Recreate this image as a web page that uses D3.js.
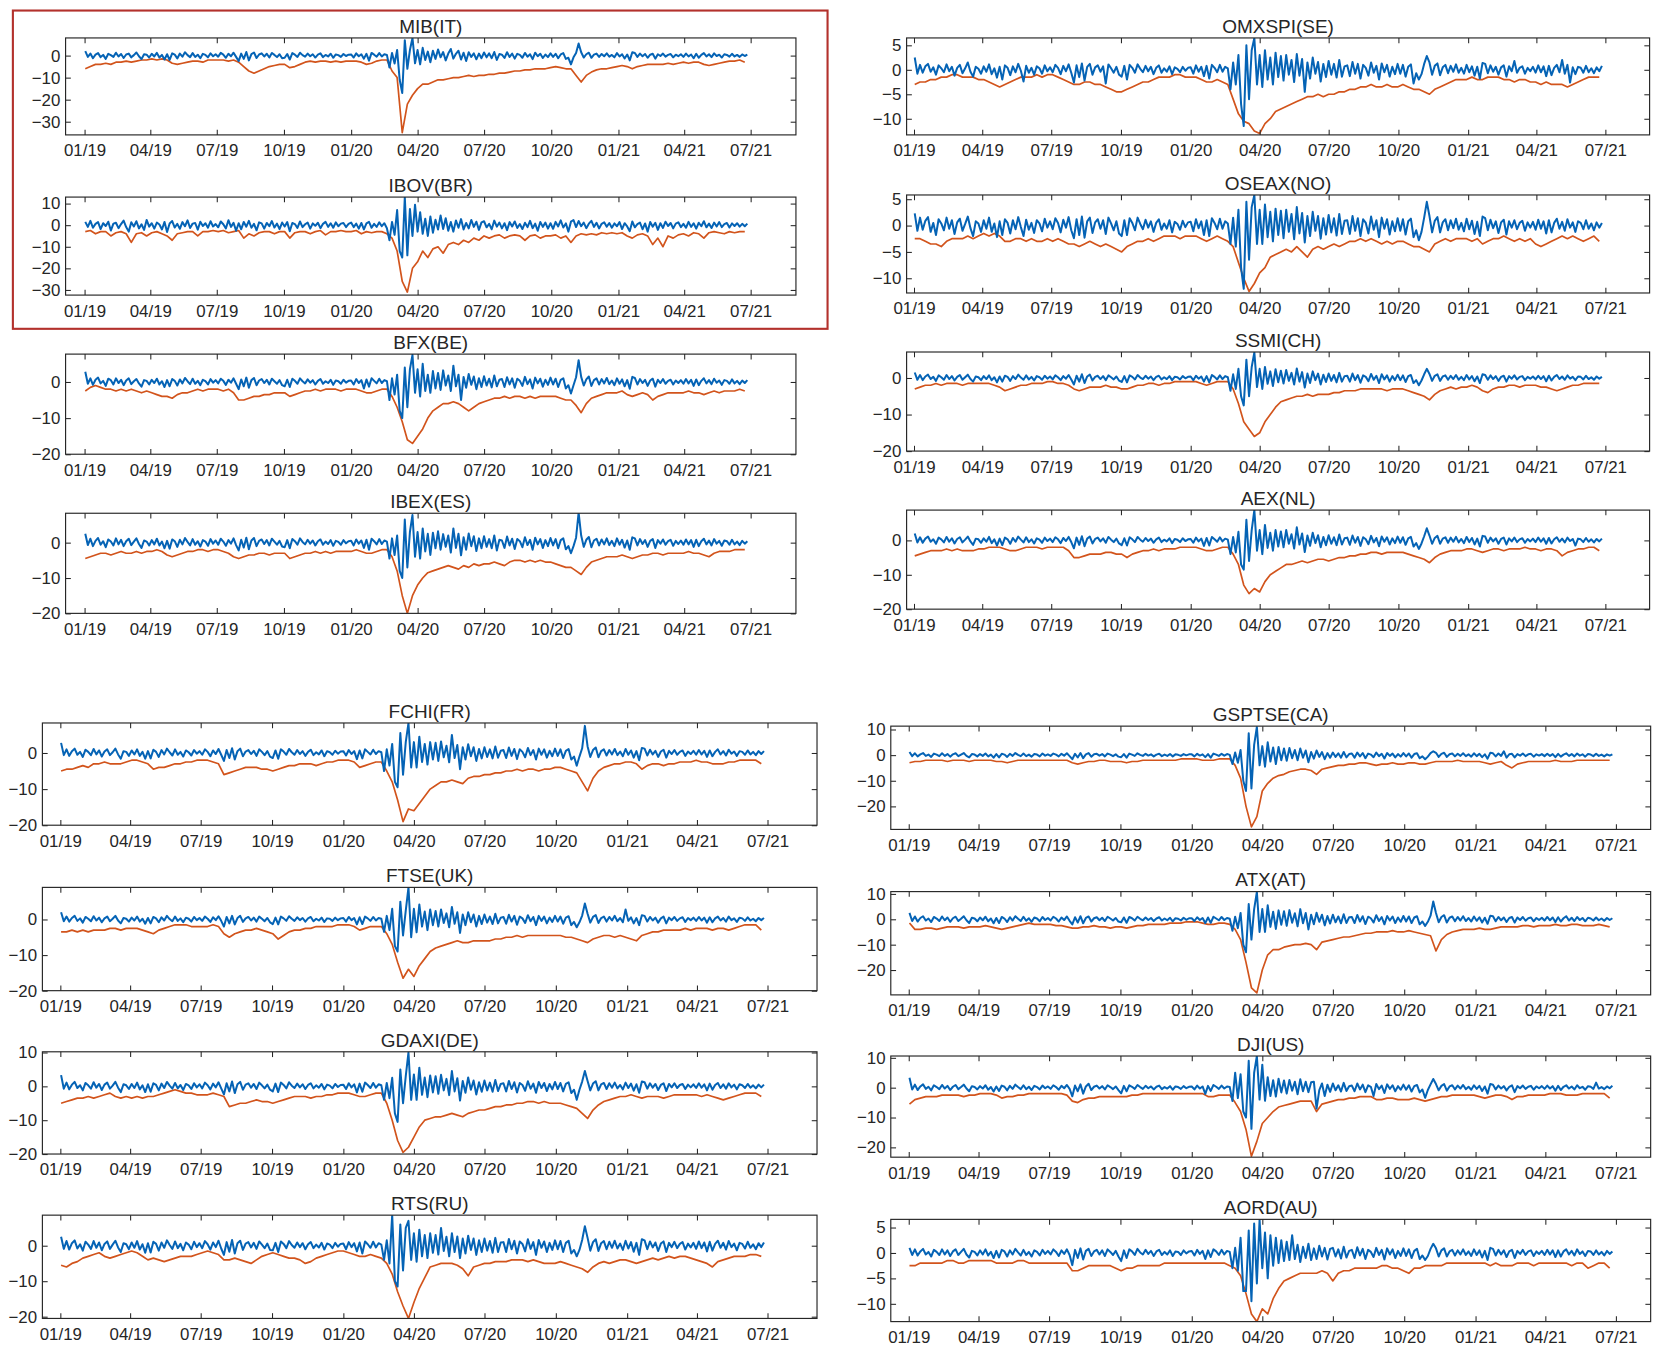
<!DOCTYPE html>
<html>
<head>
<meta charset="utf-8">
<script src="https://cdn.jsdelivr.net/npm/d3@7"></script>
<style>
  html, body { margin: 0; padding: 0; background: #fff; }
  svg { display: block; }
</style>
</head>
<body>
<div id="chart"></div>
<script>
// quarter ticks shared by every panel
const tickLabels = ["01/19","04/19","07/19","10/19","01/20","04/20","07/20","10/20","01/21","04/21","07/21"];
const indexNames = ["MIB(IT)","IBOV(BR)","BFX(BE)","IBEX(ES)","OMXSPI(SE)","OSEAX(NO)","SSMI(CH)","AEX(NL)",
                    "FCHI(FR)","FTSE(UK)","GDAXI(DE)","RTS(RU)","GSPTSE(CA)","ATX(AT)","DJI(US)","AORD(AU)"];

// blue series: returns, two readings a week from 2 Jan 2019 (one line = half a quarter)
const retMIB = [
2.0,-0.6,0.9,-1.2,0.4,1.1,-0.7,0.3,-1.5,0.8,0.2,-0.6,1.3,
-0.4,0.7,-1.1,0.5,0.9,-0.8,0.2,1.4,-0.3,-1.6,0.6,0.4,-0.9,
0.8,-0.4,1.2,-0.9,0.3,-1.8,0.6,-2.0,1.0,0.4,-1.3,0.9,-0.5,
1.5,0.2,-0.7,1.1,-0.6,0.4,-1.2,0.8,0.3,-0.8,1.0,-0.3,0.6,
-0.5,1.2,0.4,-1.0,0.8,-0.3,1.3,-0.6,-2.5,0.9,-1.5,1.6,-2.2,
0.7,1.4,-1.1,0.5,1.0,-0.4,0.8,-0.9,1.2,0.3,-0.7,0.6,-1.2,
-1.0,0.7,-1.8,1.1,0.4,-0.6,1.3,0.2,-0.5,0.9,-0.3,0.6,-0.9,
0.4,1.0,-0.7,0.3,-0.4,0.8,-1.0,0.5,0.2,-0.6,0.7,-0.2,0.4,
0.5,-0.9,1.0,-0.3,0.6,-1.4,0.8,-2.3,1.2,0.4,-0.5,1.1,-0.4,
0.6,0.3,-5.4,1.2,-3.6,2.5,-11,-17,7,-6,2.5,8,-3.5,
2.5,-4.0,3.5,-2.0,1.8,-3.0,2.2,-1.5,2.8,-0.8,1.6,-2.2,0.9,
3.0,-1.4,0.8,2.2,-1.8,1.3,-2.5,1.5,-0.6,1.0,-1.7,0.9,-1.2,
1.4,-0.8,1.0,-1.2,1.6,-2.0,0.7,0.4,-1.1,1.5,-0.6,0.9,-1.4,
0.8,0.3,-1.0,1.2,-0.5,0.6,-1.6,1.3,-0.3,0.8,-1.1,0.5,-0.7,
1.0,-0.6,0.8,-1.2,0.5,1.1,-1.5,-1.0,-4.0,-0.8,1.2,5.5,1.5,
-0.9,0.6,1.3,-1.0,0.4,0.9,-0.6,0.7,-0.3,1.0,-0.5,0.3,-0.8,
1.1,-0.4,0.6,-1.3,0.5,-2.2,1.5,1.2,-0.6,0.9,-0.3,0.7,-1.0,
0.4,0.8,-1.4,0.6,-0.2,0.9,-0.5,0.3,0.7,-0.8,0.4,-0.3,0.6,
-0.6,0.9,-0.4,0.5,-1.2,0.8,-1.0,0.3,1.1,-0.4,0.6,-0.7,1.0,
-0.2,0.4,-0.9,0.6,0.3,-0.5,0.8,-0.4,0.3,-0.6,0.5,-0.2,0.4];
const retIBOV = [
1.5,-0.8,2.0,-1.2,0.6,1.4,-1.8,0.9,-0.4,1.6,-2.5,0.7,1.1,
-1.4,0.5,2.1,-0.9,-3.0,1.3,-0.6,1.8,-1.5,0.4,-2.2,2.4,-0.7,
0.9,-1.6,1.2,0.3,-2.0,1.5,-3.2,0.8,1.9,-1.1,0.6,-1.7,1.4,
-0.5,2.2,-1.3,0.7,1.0,-2.1,1.6,-0.4,0.9,-1.2,1.8,-0.6,0.5,
-1.0,1.7,0.4,-1.5,2.3,-0.8,1.1,-2.6,0.9,-1.9,1.5,-0.7,2.0,
-1.2,0.6,-2.4,1.3,0.8,-1.6,1.0,-0.5,1.9,-1.1,0.7,-1.8,1.2,
-0.6,1.4,-2.8,1.0,0.5,-1.3,1.7,-0.9,0.4,1.2,-1.6,0.8,-0.3,
1.1,-1.4,0.6,1.5,-0.8,0.9,-1.2,1.3,-0.5,0.7,1.0,-0.9,0.6,
1.2,-0.9,0.7,-1.6,1.0,-2.0,0.8,1.5,-1.2,0.6,-0.8,1.3,-0.5,
0.9,-1.4,-7,1.5,-4.5,7,-12,-15,13,-14,7.5,-5,9.5,
-3.0,6.0,-4.0,3.0,-5.0,4.0,-3.5,2.5,-2.0,4.5,-1.8,3.2,-2.6,
1.5,-3.0,2.2,-1.2,2.8,-2.0,1.0,-1.5,2.4,-0.8,1.6,-2.2,1.3,
1.8,-1.0,0.6,-1.9,2.1,-0.7,1.2,-1.5,0.9,-2.3,1.4,-0.6,1.7,
-1.3,0.5,-1.8,1.1,-0.9,2.0,-1.4,0.7,-2.6,1.5,-0.8,1.2,-1.6,
0.9,-1.7,1.5,-0.6,2.2,-1.1,0.8,-3.0,1.6,2.4,-0.9,1.9,-0.5,
1.2,-1.4,0.7,2.0,-0.8,1.1,-1.5,0.6,1.3,-0.7,1.0,-1.2,0.8,
-0.5,1.4,-1.8,0.9,-0.6,-2.8,1.7,-1.0,0.5,1.2,-1.9,0.8,-3.0,
1.5,-0.7,1.1,-2.2,0.9,-1.3,1.6,-0.4,1.0,-1.5,0.7,1.3,-0.9,
0.6,-1.2,1.5,-0.8,0.9,-1.6,1.1,-0.5,1.8,-1.0,0.7,-1.3,1.2,
-0.6,1.4,-0.9,0.5,1.0,-1.1,0.8,-0.4,0.9,-0.7,0.6,-0.5,0.7];
const retBFX = [
2.8,-0.5,1.0,-0.8,0.6,1.2,-0.4,0.3,-1.1,0.9,0.5,-0.7,1.0,
-0.3,0.6,-0.9,0.4,1.0,-0.6,0.2,0.8,-0.4,-1.3,0.5,0.3,-0.7,
0.6,-0.3,0.9,-0.7,0.2,-1.4,0.5,-1.2,0.8,0.3,-1.0,0.7,-0.4,
1.1,0.2,-0.6,0.9,-0.5,0.3,-0.9,0.6,0.2,-0.7,0.8,-0.2,0.5,
-0.4,0.9,0.3,-0.8,0.6,-0.2,1.0,-0.5,-2.0,0.7,-1.2,1.2,-1.6,
0.5,1.1,-0.9,0.4,0.8,-0.3,0.6,-0.7,0.9,0.2,-0.5,0.5,-0.9,
-1.2,0.6,-1.4,0.9,0.3,-0.5,1.0,0.2,-0.4,0.7,-0.2,0.5,-0.7,
0.3,0.8,-0.5,0.2,-0.3,0.6,-0.8,0.4,0.2,-0.5,0.6,-0.2,0.3,
0.4,-0.7,0.8,-0.3,0.5,-1.8,0.7,-1.3,1.0,0.3,-0.4,0.9,-0.3,
0.5,0.2,-5,1,-3.5,2,-8,-10,4,-7,3.5,7.5,-3,
3.5,-4.0,5.0,-2.5,2.0,-3.0,3.0,-1.8,2.5,-2.2,3.2,-1.0,1.8,
-2.5,4.5,-1.2,2.0,-5.0,1.4,-1.6,2.2,-0.8,1.5,-2.0,1.0,-1.4,
1.6,-1.0,0.9,-1.5,1.8,-1.2,0.6,0.8,-1.4,1.3,-0.7,1.0,-1.6,
0.9,0.3,-1.1,1.4,-0.6,0.7,-1.8,1.2,-0.4,0.9,-1.3,0.6,-0.8,
1.2,-0.7,0.9,-1.4,0.6,1.0,-1.8,-0.9,-3.2,-0.9,1.3,6.0,1.4,
-1.0,0.7,1.5,-1.1,0.5,1.0,-0.7,0.8,-0.4,1.1,-0.6,0.4,-0.9,
1.0,-0.5,0.7,-1.2,0.5,-1.9,1.4,1.1,-0.7,0.8,-0.3,0.6,-1.1,
0.4,0.9,-1.3,0.6,-0.3,0.8,-0.5,0.3,0.6,-0.7,0.4,-0.3,0.5,
-0.5,0.8,-0.4,0.6,-1.1,0.7,-0.9,0.3,1.0,-0.4,0.5,-0.6,0.9,
-0.2,0.4,-0.8,0.5,0.3,-0.5,0.7,-0.4,0.3,-0.6,0.4,-0.3,0.5];
const retIBEX = [
2.5,-0.7,1.1,-1.0,0.5,1.3,-0.6,0.4,-1.3,0.9,0.3,-0.8,1.2,
-0.5,0.8,-1.0,0.4,1.1,-0.7,0.3,1.2,-0.4,-1.5,0.6,0.3,-0.8,
0.7,-0.5,1.1,-0.8,0.3,-1.6,0.5,-1.7,0.9,0.4,-1.2,0.8,-0.5,
1.3,0.2,-0.8,1.0,-0.6,0.4,-1.1,0.7,0.3,-0.9,1.0,-0.3,0.6,
-0.6,1.1,0.3,-0.9,0.7,-0.3,1.2,-0.7,-2.2,0.8,-1.4,1.4,-1.9,
0.6,1.3,-1.0,0.5,0.9,-0.4,0.7,-0.8,1.1,0.3,-0.6,0.5,-1.1,
-1.3,0.7,-1.6,1.0,0.4,-0.6,1.2,0.2,-0.5,0.8,-0.3,0.6,-0.8,
0.4,0.9,-0.6,0.3,-0.4,0.7,-0.9,0.5,0.2,-0.6,0.7,-0.2,0.4,
0.5,-0.8,0.9,-0.3,0.6,-1.5,0.8,-2.0,1.1,0.4,-0.5,1.0,-0.4,
0.6,0.3,-4.5,1.2,-3.5,2,-8,-10,6.5,-7,3,7.8,-4,
3.0,-4.5,4.0,-2.5,2.5,-3.5,2.8,-1.6,3.2,-2.0,2.4,-1.2,2.0,
-2.8,4.0,-1.5,2.5,-3.6,1.5,-2.0,2.6,-1.0,1.8,-2.4,1.2,-1.6,
1.8,-1.2,1.0,-1.6,2.0,-2.2,0.8,0.6,-1.5,1.7,-0.8,1.1,-1.8,
1.0,0.4,-1.3,1.5,-0.7,0.8,-2.0,1.4,-0.5,1.0,-1.5,0.7,-1.0,
1.3,-0.8,1.0,-1.6,0.7,1.2,-1.9,-1.0,-3.0,-1.0,1.4,8.5,2.0,
-1.2,0.8,1.6,-1.3,0.6,1.1,-0.8,0.9,-0.5,1.2,-0.7,0.5,-1.0,
1.2,-0.6,0.8,-1.4,0.6,-2.0,1.5,1.2,-0.8,1.0,-0.4,0.7,-1.2,
0.5,1.0,-1.5,0.7,-0.3,0.9,-0.6,0.4,0.8,-0.9,0.5,-0.4,0.6,
-0.6,0.9,-0.5,0.7,-1.2,0.8,-1.0,0.4,1.1,-0.5,0.6,-0.8,1.0,
-0.3,0.5,-0.9,0.6,0.4,-0.6,0.8,-0.5,0.3,-0.7,0.5,-0.3,0.4];
const retOMXSPI = [
2.5,-0.8,1.0,-0.6,0.7,1.2,-0.4,0.5,-1.0,0.9,0.3,-0.5,1.1,
-0.3,0.6,-1.2,0.4,1.0,-0.7,0.3,1.5,-0.4,-1.4,0.6,0.2,-0.8,
0.7,-0.4,1.1,-0.9,0.3,-1.6,0.6,-2.0,0.9,0.4,-1.1,0.7,-0.5,
1.2,-0.2,-2.4,0.8,-0.6,0.4,-1.0,0.7,0.3,-0.8,0.9,-0.3,0.5,
-0.5,1.0,0.4,-0.9,0.8,-0.3,1.1,-0.6,-2.6,0.9,-1.5,1.3,-2.2,
0.6,1.2,-1.0,0.5,0.9,-0.4,0.7,-2.8,1.1,0.3,-0.6,0.6,-1.0,
-1.4,0.8,-2.0,1.0,0.4,-0.6,1.1,0.2,-0.5,0.8,-0.3,0.6,-0.9,
0.4,0.9,-0.6,0.3,-0.4,0.7,-0.9,0.5,0.2,-0.5,0.6,-0.2,0.4,
0.5,-0.8,0.9,-0.4,0.6,-1.3,0.8,-1.8,1.0,0.4,-0.5,1.0,-0.4,
0.6,0.3,-4,1.5,-3,3,-7,-11.5,5,-6,4,6.5,-3,
3.0,-3.5,4.0,-2.0,2.5,-3.0,3.5,-1.5,2.8,-2.2,3.0,-1.0,2.0,
-2.5,3.2,-1.2,2.2,-4.5,1.5,-1.8,2.5,-0.8,1.6,-2.4,1.2,-1.5,
1.8,-1.0,1.2,-1.6,2.0,-1.4,0.7,0.9,-1.3,1.6,-0.8,1.2,-1.8,
1.0,0.4,-1.2,1.5,-0.6,0.8,-2.0,1.3,-0.5,1.0,-1.4,0.6,-0.9,
1.2,-0.8,1.0,-1.4,0.6,1.1,-2.8,-0.7,-2.0,-0.9,1.2,2.8,1.5,
-1.0,0.8,1.3,-1.1,0.5,1.0,-0.7,0.8,-0.4,1.1,-0.6,0.4,-0.8,
1.0,-0.5,0.7,-1.2,0.6,-1.8,1.4,1.2,-0.7,0.9,-0.4,0.6,-1.0,
0.5,0.9,-1.4,0.7,-0.3,1.8,-0.6,0.4,0.7,-0.8,0.4,-0.3,0.6,
-0.6,0.9,-0.5,0.7,-1.3,0.8,-1.1,0.4,1.0,-0.5,2.0,-0.8,1.0,
-2.6,0.5,-0.9,0.6,0.4,-0.6,0.8,-0.5,0.3,-0.7,0.5,-0.3,0.8];
const retOSEAX = [
2.3,-1.0,1.5,-0.8,0.9,1.6,-1.2,0.5,-1.8,1.2,0.4,-0.9,1.5,
-0.6,1.0,-1.6,0.6,1.3,-1.0,0.3,1.7,-0.5,-2.0,0.8,0.4,-1.2,
1.0,-0.6,1.5,-1.2,0.4,-2.2,0.8,-1.8,1.2,0.5,-1.5,1.0,-0.7,
1.6,-0.3,-2.0,1.1,-0.8,0.5,-1.4,1.0,0.4,-1.1,1.3,-0.4,0.8,
-0.7,1.4,0.5,-1.3,1.1,-0.4,1.6,-0.9,-2.4,1.2,-1.8,1.7,-2.3,
0.8,1.5,-1.4,0.6,1.2,-0.6,1.0,-1.6,1.5,0.4,-0.9,0.8,-1.5,
-2.0,1.0,-1.8,1.4,0.5,-0.9,1.5,0.3,-0.7,1.1,-0.4,0.8,-1.2,
0.5,1.2,-0.8,0.4,-0.6,1.0,-1.3,0.7,0.3,-0.8,0.9,-0.3,0.6,
0.7,-1.1,1.2,-0.5,0.8,-1.8,1.0,-2.0,1.4,0.5,-0.7,1.3,-0.6,
0.8,0.4,-3.5,1.5,-4,3,-8,-12,4.5,-6.5,3.5,5.8,-3.5,
3.0,-3.5,4.0,-2.2,2.6,-3.0,3.2,-1.8,2.8,-2.4,3.0,-1.2,2.2,
-2.6,3.5,-1.5,2.4,-3.2,1.8,-2.0,2.6,-1.0,1.8,-2.5,1.4,-1.7,
2.0,-1.3,1.4,-1.9,2.2,-1.6,0.9,1.0,-1.6,1.8,-1.0,1.4,-2.0,
1.2,0.5,-1.5,1.7,-0.8,1.0,-2.2,1.5,-0.6,1.2,-1.7,0.8,-1.1,
1.4,-1.0,1.2,-1.7,0.8,1.3,-2.2,-0.9,-2.8,-1.2,1.5,4.5,1.8,
-1.3,0.9,1.6,-1.3,0.6,1.2,-0.9,1.0,-0.5,1.3,-0.8,0.5,-1.1,
1.3,-0.7,0.9,-1.6,0.7,-2.0,1.7,1.4,-0.9,1.1,-0.5,0.8,-1.4,
0.6,1.1,-1.7,0.8,-0.4,1.0,-0.7,0.5,0.9,-1.0,0.6,-0.4,0.7,
-0.8,1.1,-0.6,0.8,-1.5,1.0,-1.3,0.5,1.3,-0.6,0.7,-1.0,1.2,
-0.4,0.6,-1.2,0.8,0.5,-0.7,1.0,-0.6,0.4,-0.9,0.6,-0.4,0.5];
const retSSMI = [
1.5,-0.5,0.8,-0.6,0.4,0.9,-0.3,0.3,-0.8,0.7,0.2,-0.5,0.8,
-0.3,0.5,-0.7,0.3,0.8,-0.5,0.2,0.9,-0.3,-1.0,0.4,0.2,-0.6,
0.5,-0.3,0.7,-0.6,0.2,-1.2,0.4,-1.0,0.6,0.3,-0.8,0.5,-0.3,
0.9,0.1,-0.5,0.7,-0.4,0.3,-0.7,0.5,0.2,-0.5,0.6,-0.2,0.4,
-0.4,0.7,0.2,-0.6,0.5,-0.2,0.8,-0.4,-1.8,0.6,-1.0,1.0,-1.4,
0.4,0.9,-0.7,0.3,0.6,-0.3,0.5,-0.6,0.7,0.2,-0.4,0.4,-0.7,
-1.1,0.5,-1.2,0.7,0.3,-0.4,0.8,0.1,-0.3,0.6,-0.2,0.4,-0.6,
0.3,0.6,-0.4,0.2,-0.3,0.5,-0.6,0.3,0.2,-0.4,0.5,-0.1,0.3,
0.4,-0.6,0.6,-0.2,0.4,-1.0,0.5,-1.2,0.8,0.3,-0.4,0.7,-0.3,
0.5,0.2,-3.5,1,-3,2.5,-5,-7.5,5,-5,3,7,-2.5,
2.5,-3.0,3.0,-1.6,1.8,-2.2,2.4,-1.2,2.0,-1.5,2.2,-0.8,1.4,
-1.8,2.6,-1.0,1.6,-2.6,1.2,-1.4,1.8,-0.6,1.2,-1.8,0.9,-1.1,
1.2,-0.8,0.8,-1.2,1.4,-1.0,0.5,0.6,-1.0,1.2,-0.6,0.8,-1.3,
0.7,0.3,-0.9,1.1,-0.5,0.6,-1.4,1.0,-0.4,0.7,-1.0,0.5,-0.6,
0.9,-0.6,0.7,-1.1,0.5,0.8,-1.4,-0.6,-2.0,-0.7,1.0,2.5,1.1,
-0.8,0.6,1.0,-0.8,0.4,0.7,-0.5,0.6,-0.3,0.8,-0.5,0.3,-0.6,
0.8,-0.4,0.5,-0.9,0.4,-1.4,1.0,0.8,-0.5,0.7,-0.3,0.5,-0.8,
0.3,0.6,-1.0,0.5,-0.2,0.7,-0.4,0.3,0.5,-0.6,0.3,-0.2,0.4,
-0.4,0.6,-0.3,0.5,-0.9,0.6,-0.7,0.3,0.8,-0.3,0.4,-0.5,0.7,
-0.2,0.3,-0.6,0.4,0.3,-0.4,0.6,-0.3,0.2,-0.5,0.4,-0.2,0.3];
const retAEX = [
2.0,-0.6,0.9,-0.7,0.5,1.1,-0.4,0.3,-1.0,0.8,0.3,-0.6,1.0,
-0.4,0.6,-0.9,0.4,0.9,-0.6,0.2,1.1,-0.3,-1.3,0.5,0.3,-0.7,
0.6,-0.4,1.0,-0.8,0.3,-1.5,0.5,-1.4,0.8,0.3,-1.0,0.7,-0.4,
1.1,0.2,-0.6,0.9,-0.5,0.3,-0.9,0.6,0.2,-0.7,0.8,-0.2,0.5,
-0.5,0.9,0.3,-0.8,0.7,-0.2,1.0,-0.5,-2.3,0.8,-1.3,1.2,-1.7,
0.5,1.1,-0.9,0.4,0.8,-0.3,0.6,-0.7,1.0,0.2,-0.5,0.5,-0.9,
-1.4,0.6,-1.5,0.9,0.3,-0.5,1.0,0.2,-0.4,0.7,-0.2,0.5,-0.7,
0.3,0.8,-0.5,0.2,-0.3,0.6,-0.8,0.4,0.2,-0.5,0.6,-0.2,0.3,
0.4,-0.7,0.8,-0.3,0.5,-1.6,0.7,-1.5,1.0,0.3,-0.4,0.9,-0.3,
0.5,0.2,-4,1,-3.5,2.5,-7,-8.5,6,-6,3,8.8,-3,
3.0,-4.0,4.5,-2.2,2.2,-3.0,3.0,-1.8,2.6,-2.0,3.0,-1.0,1.8,
-2.4,3.8,-1.2,2.0,-3.4,1.4,-1.6,2.2,-0.8,1.5,-2.0,1.0,-1.4,
1.5,-1.0,0.9,-1.4,1.7,-1.2,0.6,0.8,-1.3,1.4,-0.7,1.0,-1.6,
0.9,0.3,-1.1,1.3,-0.6,0.7,-1.7,1.1,-0.4,0.9,-1.2,0.6,-0.8,
1.1,-0.7,0.9,-1.3,0.6,1.0,-1.8,-0.8,-2.5,-0.9,1.2,3.5,1.4,
-1.0,0.7,1.3,-1.0,0.5,0.9,-0.7,0.8,-0.4,1.0,-0.6,0.4,-0.8,
1.0,-0.5,0.7,-1.2,0.5,-1.8,1.3,1.1,-0.7,0.8,-0.3,0.6,-1.0,
0.4,0.8,-1.2,0.6,-0.3,0.8,-0.5,0.3,0.6,-0.7,0.4,-0.3,0.5,
-0.5,0.8,-0.4,0.6,-1.0,0.7,-0.9,0.3,0.9,-0.4,0.5,-0.6,0.8,
-0.2,0.4,-1.5,0.5,0.3,-0.5,0.7,-0.4,0.3,-0.6,0.4,-0.3,0.5];
const retFCHI = [
2.8,-0.6,1.0,-0.8,0.5,1.2,-0.5,0.3,-1.1,0.9,0.3,-0.6,1.1,
-0.4,0.7,-1.0,0.4,1.0,-0.6,0.2,1.2,-0.4,-1.6,0.5,0.3,-0.8,
0.7,-0.4,1.0,-0.8,0.3,-1.6,0.5,-1.5,0.9,0.3,-1.1,0.8,-0.4,
1.2,0.2,-0.7,1.0,-0.5,0.3,-1.0,0.7,0.2,-0.7,0.8,-0.2,0.5,
-0.5,1.0,0.3,-0.9,0.7,-0.3,1.1,-0.5,-2.2,0.8,-1.4,1.3,-1.8,
0.5,1.2,-0.9,0.4,0.8,-0.3,0.6,-0.8,1.0,0.3,-0.6,0.5,-1.0,
-1.4,0.7,-1.6,1.0,0.4,-0.5,1.1,0.2,-0.5,0.8,-0.3,0.5,-0.8,
0.3,0.9,-0.6,0.2,-0.4,0.7,-0.9,0.5,0.2,-0.5,0.6,-0.2,0.4,
0.5,-0.7,0.8,-0.3,0.5,-1.7,0.7,-1.5,1.0,0.3,-0.4,0.9,-0.3,
0.5,0.2,-5,1,-3.5,2.5,-8,-9.5,5.5,-6,3,8.3,-4,
3.0,-4.0,4.5,-2.5,2.5,-3.2,3.0,-1.8,2.8,-2.2,3.2,-1.2,2.0,
-2.6,5.0,-1.4,2.2,-4.5,1.6,-1.8,2.4,-0.9,1.6,-2.2,1.1,-1.5,
1.6,-1.1,1.0,-1.5,1.8,-1.3,0.6,0.8,-1.4,1.5,-0.8,1.1,-1.7,
1.0,0.3,-1.2,1.4,-0.6,0.8,-1.8,1.2,-0.5,1.0,-1.3,0.6,-0.9,
1.2,-0.8,1.0,-1.4,0.6,1.1,-1.8,-1.0,-3.5,-1.0,1.3,7.5,1.8,
-1.1,0.8,1.5,-1.2,0.5,1.0,-0.7,0.8,-0.4,1.1,-0.6,0.4,-0.9,
1.1,-0.5,0.7,-1.3,0.5,-2.0,1.4,1.2,-0.7,0.9,-0.4,0.6,-1.1,
0.4,0.9,-1.3,0.6,-0.3,0.8,-0.5,0.3,0.7,-0.8,0.4,-0.3,0.6,
-0.5,0.8,-0.4,0.6,-1.1,0.7,-0.9,0.3,1.0,-0.4,0.5,-0.7,0.9,
-0.2,0.4,-0.8,0.5,0.3,-0.5,0.7,-0.4,0.3,-0.6,0.5,-0.3,0.5];
const retFTSE = [
2.0,-0.5,0.8,-0.6,0.4,1.0,-0.4,0.3,-0.9,0.7,0.2,-0.5,0.9,
-0.3,0.5,-0.8,0.3,0.8,-0.5,0.2,1.0,-0.3,-1.1,0.4,0.2,-0.6,
0.5,-0.3,0.8,-0.6,0.2,-1.2,0.4,-1.1,0.7,0.3,-0.8,0.6,-0.3,
1.0,0.1,-0.5,0.8,-0.4,0.3,-0.8,0.5,0.2,-0.6,0.7,-0.2,0.4,
-0.4,0.8,0.2,-0.7,0.6,-0.2,0.9,-0.4,-2.0,0.7,-1.1,1.0,-1.4,
0.4,1.0,-0.7,0.3,0.7,-0.3,0.5,-0.6,0.8,0.2,-0.5,0.4,-0.8,
-1.3,0.5,-1.4,0.8,0.3,-0.4,0.9,0.2,-0.4,0.6,-0.2,0.4,-0.6,
0.3,0.7,-0.5,0.2,-0.3,0.5,-0.7,0.3,0.2,-0.4,0.5,-0.2,0.3,
0.4,-0.6,0.7,-0.2,0.4,-1.4,0.6,-1.3,0.8,0.3,-0.4,0.7,-0.3,
0.4,0.2,-3.5,1,-3,3,-7.5,-9,5,-4.5,2.5,9,-5,
3.0,-3.6,4.2,-2.0,2.2,-3.0,2.8,-1.6,2.4,-2.0,2.8,-1.0,1.7,
-2.2,3.5,-1.2,2.0,-3.8,1.4,-1.6,2.0,-0.8,1.4,-2.0,1.0,-1.3,
1.4,-0.9,0.8,-1.3,1.6,-1.1,0.5,0.7,-1.2,1.3,-0.6,1.0,-1.5,
0.8,0.3,-1.0,1.2,-0.5,0.7,-1.6,1.0,-0.4,0.8,-1.1,0.5,-0.7,
1.0,-0.6,0.8,-1.2,0.5,0.9,-1.6,-0.7,-2.2,-0.8,1.1,4.5,1.6,
-0.9,0.7,1.2,-1.0,0.4,0.8,-0.6,0.7,-0.3,1.0,-0.5,0.4,-0.8,
2.8,-0.4,0.6,-1.1,0.4,-1.6,1.2,1.0,-0.6,0.7,-0.3,0.5,-0.9,
0.3,0.8,-1.1,0.5,-0.2,0.7,-0.4,0.3,0.6,-0.7,0.4,-0.2,0.5,
-0.4,0.7,-0.3,0.5,-0.9,0.6,-0.8,0.3,0.8,-0.3,0.4,-0.6,0.8,
-0.2,0.3,-0.7,0.5,0.3,-0.4,0.6,-0.3,0.2,-0.5,0.4,-0.2,0.4];
const retGDAXI = [
3.3,-0.7,1.1,-0.9,0.5,1.3,-0.5,0.3,-1.2,1.0,0.3,-0.7,1.2,
-0.4,0.7,-1.1,0.5,1.1,-0.7,0.2,1.3,-0.4,-1.7,0.6,0.3,-0.8,
0.7,-0.5,1.1,-0.9,0.3,-1.7,0.6,-1.6,0.9,0.4,-1.2,0.8,-0.5,
1.3,0.2,-0.7,1.0,-0.6,0.4,-1.1,0.7,0.3,-0.8,0.9,-0.3,0.6,
-0.6,1.1,0.3,-0.9,0.8,-0.3,1.2,-0.6,-2.4,0.9,-1.5,1.4,-2.0,
0.6,1.3,-1.0,0.5,0.9,-0.4,0.7,-0.8,1.1,0.3,-0.6,0.5,-1.0,
-1.5,0.8,-1.7,1.1,0.4,-0.6,1.2,0.2,-0.5,0.8,-0.3,0.6,-0.8,
0.4,0.9,-0.6,0.3,-0.4,0.7,-0.9,0.5,0.2,-0.6,0.7,-0.2,0.4,
0.5,-0.8,0.9,-0.3,0.6,-1.8,0.8,-1.6,1.1,0.4,-0.5,1.0,-0.4,
0.6,0.3,-4,1,-3.5,2.5,-8,-10.5,5,-5,3,10,-4,
3.5,-4.0,5.5,-2.5,2.6,-3.2,3.2,-1.8,3.0,-2.2,3.4,-1.2,2.2,
-2.6,4.5,-1.5,2.4,-4.2,1.6,-1.9,2.6,-1.0,1.7,-2.4,1.2,-1.6,
1.7,-1.2,1.1,-1.6,1.9,-1.4,0.7,0.9,-1.5,1.6,-0.8,1.2,-1.8,
1.0,0.4,-1.3,1.5,-0.7,0.8,-1.9,1.3,-0.5,1.0,-1.4,0.7,-0.9,
1.3,-0.8,1.0,-1.5,0.7,1.2,-2.0,-1.0,-4.0,-1.0,1.4,4.5,1.6,
-1.2,0.8,1.5,-1.2,0.6,1.0,-0.8,0.9,-0.4,1.1,-0.6,0.4,-0.9,
1.1,-0.5,0.8,-1.3,0.6,-1.9,1.4,1.2,-0.7,0.9,-0.4,0.7,-1.1,
0.4,0.9,-1.4,0.7,-0.3,0.9,-0.5,0.4,0.7,-0.8,0.5,-0.3,0.6,
-0.5,0.9,-0.4,0.6,-1.2,0.8,-1.0,0.4,1.0,-0.5,0.6,-0.7,0.9,
-0.3,0.5,-0.9,0.6,0.3,-0.5,0.7,-0.4,0.3,-0.6,0.5,-0.3,0.5];
const retRTS = [
2.5,-0.9,1.3,-1.1,0.7,1.5,-0.8,0.4,-1.4,1.1,0.3,-0.9,1.3,
-0.6,0.9,-1.3,0.5,1.2,-0.9,0.3,1.4,-0.5,-1.8,0.7,0.4,-1.0,
0.9,-0.6,1.3,-1.1,0.4,-2.0,0.7,-1.9,1.1,0.5,-1.4,0.9,-0.6,
1.5,0.2,-0.9,1.2,-0.7,0.5,-1.3,0.9,0.3,-1.0,1.1,-0.4,0.7,
-0.7,1.3,0.4,-1.1,0.9,-0.4,1.4,-0.8,-2.6,1.0,-1.7,1.6,-2.2,
0.7,1.4,-1.2,0.6,1.0,-0.5,0.8,-0.9,1.2,0.3,-0.7,0.6,-1.2,
-1.3,0.8,-1.8,1.2,0.5,-0.7,1.3,0.2,-0.6,0.9,-0.4,0.7,-1.0,
0.4,1.0,-0.7,0.3,-0.5,0.8,-1.1,0.6,0.3,-0.7,0.8,-0.3,0.5,
0.6,-1.0,1.0,-0.4,0.7,-1.6,0.9,-2.2,1.2,0.4,-0.6,1.1,-0.5,
0.7,0.3,-4,1.5,-5,8.6,-10,-11.5,6,-7,5,7,-4,
3.5,-4.5,4.5,-3.0,3.0,-3.5,3.5,-2.0,3.0,-2.5,5.0,-1.5,2.5,
-3.0,3.5,-1.8,2.6,-3.5,2.0,-2.2,2.8,-1.2,2.0,-2.6,1.5,-1.8,
2.0,-1.4,1.3,-2.0,2.2,-1.8,0.9,1.0,-1.8,1.9,-1.0,1.4,-2.2,
1.2,0.5,-1.6,1.8,-0.9,1.0,-2.6,1.6,-0.6,1.2,-1.8,0.8,-1.2,
1.5,-1.0,1.3,-1.8,0.8,1.4,-2.2,-1.2,-3.0,-1.2,1.6,5.5,2.2,
-1.4,1.0,1.8,-1.5,0.7,1.3,-1.0,1.1,-0.6,1.4,-0.8,0.6,-1.2,
1.4,-0.8,1.0,-1.7,0.8,-2.6,1.8,1.5,-1.0,1.2,-0.5,0.9,-1.5,
0.6,1.2,-1.8,0.8,-0.4,1.1,-0.7,0.5,1.0,-1.1,0.6,-0.5,0.8,
-0.9,1.2,-0.7,0.9,-1.6,1.1,-1.4,0.5,1.4,-0.6,0.8,-1.1,1.3,
-0.4,0.6,-1.3,0.8,0.5,-0.8,1.1,-0.6,0.4,-1.0,0.7,-0.4,0.9];
const retGSPTSE = [
1.2,-0.4,0.7,-0.5,0.3,0.8,-0.3,0.2,-0.7,0.6,0.2,-0.4,0.7,
-0.3,0.4,-0.6,0.3,0.7,-0.4,0.2,0.8,-0.3,-0.9,0.4,0.2,-0.5,
0.4,-0.3,0.6,-0.5,0.2,-1.0,0.4,-0.9,0.5,0.2,-0.7,0.5,-0.3,
0.8,0.1,-0.4,0.6,-0.4,0.2,-0.6,0.4,0.2,-0.5,0.6,-0.2,0.3,
-0.3,0.6,0.2,-0.5,0.5,-0.2,0.7,-0.4,-1.6,0.5,-0.9,0.8,-1.2,
0.3,0.8,-0.6,0.3,0.5,-0.2,0.4,-0.5,0.6,0.2,-0.4,0.3,-0.6,
-0.8,0.4,-1.0,0.6,0.2,-0.3,0.7,0.1,-0.3,0.5,-0.2,0.3,-0.5,
0.2,0.5,-0.4,0.2,-0.3,0.4,-0.5,0.3,0.1,-0.3,0.4,-0.1,0.3,
0.3,-0.5,0.5,-0.2,0.3,-0.8,0.4,-1.0,0.6,0.2,-0.3,0.5,-0.2,
0.4,0.1,-3.5,1,-3,2,-10,-14,8.5,-13,4,11,-4,
3.5,-4.5,5.0,-2.5,3.0,-3.5,3.2,-2.0,2.6,-2.2,2.8,-1.2,2.0,
-2.0,2.6,-1.0,1.8,-2.8,1.2,-1.4,1.8,-0.7,1.2,-1.6,0.8,-1.0,
1.0,-0.7,0.7,-1.0,1.2,-0.9,0.4,0.6,-1.0,1.0,-0.5,0.8,-1.2,
0.6,0.2,-0.8,1.0,-0.4,0.5,-1.3,0.8,-0.3,0.6,-0.9,0.4,-0.6,
0.8,-0.5,0.6,-1.0,0.4,0.7,-1.2,-0.5,-1.6,-0.6,0.8,1.5,0.9,
-0.7,0.5,0.9,-0.7,0.3,0.6,-0.5,0.5,-0.3,0.7,-0.4,0.3,-0.6,
0.7,-0.4,0.5,-0.8,0.3,-1.4,0.9,0.7,-0.5,0.6,-0.3,1.5,-1.0,
0.3,0.5,-0.9,0.4,-0.2,0.6,-0.4,0.3,0.5,-0.6,0.3,-0.2,0.4,
-0.4,0.5,-0.3,0.4,-0.8,0.5,-0.6,0.2,0.7,-0.3,0.4,-0.5,0.6,
-0.2,0.3,-0.6,0.4,0.2,-0.4,0.5,-0.3,0.2,-0.5,0.3,-0.2,0.3];
const retATX = [
2.5,-0.7,1.1,-0.9,0.5,1.2,-0.5,0.3,-1.1,0.9,0.3,-0.7,1.1,
-0.4,0.7,-1.0,0.4,1.0,-0.7,0.2,1.2,-0.4,-1.5,0.6,0.3,-0.8,
0.7,-0.4,1.0,-0.8,0.3,-1.6,0.5,-1.5,0.9,0.3,-1.1,0.8,-0.5,
1.2,0.2,-0.7,1.0,-0.6,0.4,-1.0,0.7,0.3,-0.8,0.9,-0.3,0.5,
-0.5,1.0,0.3,-0.9,0.7,-0.3,1.1,-0.6,-2.0,0.8,-1.3,1.2,-1.6,
0.5,1.1,-0.9,0.4,0.8,-0.4,0.6,-0.7,1.0,0.3,-0.5,0.5,-0.9,
-1.2,0.7,-1.4,0.9,0.4,-0.5,1.0,0.2,-0.4,0.7,-0.3,0.5,-0.7,
0.3,0.8,-0.5,0.3,-0.4,0.6,-0.8,0.4,0.2,-0.5,0.6,-0.2,0.4,
0.4,-0.7,0.8,-0.3,0.5,-1.5,0.7,-1.4,1.0,0.3,-0.4,0.9,-0.3,
0.5,0.2,-4.5,1,-3.5,2.5,-10,-13,6,-8,4,10.8,-5,
4.0,-5.0,5.5,-3.0,3.0,-3.8,3.5,-2.2,3.2,-2.6,3.6,-1.4,2.4,
-2.8,4.0,-1.6,2.5,-4.0,1.8,-2.0,2.6,-1.0,1.8,-2.4,1.3,-1.7,
1.8,-1.2,1.1,-1.6,2.0,-1.5,0.8,0.9,-1.5,1.7,-0.9,1.2,-1.9,
1.0,0.4,-1.3,1.6,-0.7,0.9,-2.0,1.3,-0.5,1.1,-1.5,0.7,-1.0,
1.3,-0.9,1.1,-1.5,0.7,1.2,-2.0,-0.9,-2.6,-1.0,1.4,7.0,2.5,
-1.2,0.9,1.6,-1.3,0.6,1.1,-0.8,0.9,-0.5,1.2,-0.7,0.5,-0.9,
1.1,-0.6,0.8,-1.3,0.6,-1.8,1.4,1.2,-0.8,0.9,-0.4,0.7,-1.1,
0.5,0.9,-1.3,0.7,-0.3,0.9,-0.6,0.4,0.7,-0.8,0.5,-0.3,0.6,
-0.5,0.9,-0.4,0.7,-1.1,0.8,-0.9,0.4,1.2,-0.5,0.6,-0.7,0.9,
-0.3,0.5,-0.8,0.6,0.3,-0.5,0.7,-0.4,0.3,-0.6,0.5,-0.3,0.4];
const retDJI = [
3.3,-0.6,1.0,-0.8,0.4,1.1,-0.4,0.3,-0.9,0.8,0.2,-0.5,0.9,
-0.3,0.6,-0.8,0.3,0.9,-0.5,0.2,1.0,-0.3,-1.2,0.5,0.2,-0.6,
0.5,-0.3,0.8,-0.7,0.2,-1.3,0.4,-1.1,0.7,0.3,-0.9,0.6,-0.4,
1.0,0.2,-0.5,0.8,-0.5,0.3,-0.8,0.6,0.2,-0.6,0.7,-0.2,0.4,
-0.4,0.8,0.2,-0.7,0.6,-0.2,0.9,-0.4,-2.9,0.7,-1.2,1.1,-2.0,
0.4,1.3,-0.8,0.3,0.7,-0.3,0.5,-0.6,0.8,0.2,-0.5,0.4,-0.8,
-1.9,0.6,-1.2,0.8,0.3,-0.4,0.9,0.2,-0.4,0.6,-0.2,0.4,-0.6,
0.3,0.7,-0.5,0.2,-0.3,0.5,-0.7,0.4,0.2,-0.4,0.5,-0.2,0.3,
0.4,-0.6,0.7,-0.3,0.4,-2.1,0.6,-1.1,0.9,0.3,-0.4,0.7,-0.3,
0.4,0.2,-4.5,5,-3.5,4.5,-8,-10,9,-13.8,5,10.6,-4,
7.7,-4.4,3.5,-2.8,2.5,-3.0,3.0,-1.6,2.4,-2.0,2.6,-1.0,2.0,
-2.2,2.8,-1.2,2.0,-1.5,1.8,2.0,-7.0,-0.8,1.4,-2.8,1.0,-1.4,
1.4,-0.9,0.8,-1.3,1.6,-1.1,0.5,0.7,-1.2,1.4,-0.6,1.0,-1.5,
0.8,0.3,-2.8,1.2,-0.5,0.7,-1.8,1.1,-0.4,0.8,-1.2,0.5,-0.7,
1.0,-0.7,0.8,-1.3,0.5,0.9,-1.6,-0.6,-3.4,-0.8,1.1,2.9,1.2,
-0.9,0.6,1.2,-1.0,0.4,0.8,-0.6,0.7,-0.3,0.9,-0.5,0.3,-0.7,
0.8,-0.4,0.6,-1.1,0.4,-2.0,1.2,1.0,-0.6,0.7,-0.3,0.5,-0.9,
0.3,0.8,-1.5,0.5,-0.2,0.7,-0.4,0.3,0.6,-0.7,0.4,-0.2,0.5,
-0.4,0.7,-0.3,0.5,-1.0,0.6,-0.8,0.3,0.8,-0.3,0.4,-0.6,0.8,
-0.2,0.3,-0.7,0.5,0.3,-0.4,1.7,-0.3,0.2,-0.5,0.4,-0.2,0.6];
const retAORD = [
1.0,-0.4,0.7,-0.5,0.3,0.8,-0.3,0.2,-0.7,0.6,0.2,-0.4,0.7,
-0.3,0.5,-0.6,0.3,0.7,-0.4,0.2,0.8,-0.3,-0.9,0.4,0.2,-0.5,
0.5,-0.3,0.7,-0.5,0.2,-1.0,0.4,-0.9,0.6,0.3,-0.7,0.5,-0.3,
0.8,0.1,-0.5,0.6,-0.4,0.2,-0.7,0.5,0.2,-0.5,0.6,-0.2,0.4,
-0.3,0.7,0.2,-0.6,0.5,-0.2,0.7,-0.4,-2.4,0.6,-1.0,0.9,-1.3,
0.4,0.8,-0.6,0.3,0.6,-0.3,0.5,-0.6,0.7,0.2,-0.4,0.4,-0.7,
-1.6,0.5,-1.0,0.7,0.3,-0.4,0.8,0.1,-0.3,0.6,-0.2,0.4,-0.6,
0.3,0.6,-0.4,0.2,-0.3,0.5,-0.6,0.3,0.2,-0.4,0.5,-0.1,0.3,
0.4,-0.5,0.6,-0.2,0.4,-1.2,0.5,-0.8,0.7,0.3,-0.4,0.6,-0.3,
0.4,0.2,-3,1,-3.5,3,-7.5,-7.5,4.4,-9.5,5.8,-6,6.5,
-3.0,4.0,-5.0,3.5,-2.5,3.0,-2.0,2.5,-1.6,2.2,-1.4,3.5,-1.2,
1.6,-1.8,1.2,-1.0,1.8,-1.4,0.9,-1.2,1.4,-0.7,1.0,-1.3,0.8,
1.0,-0.7,0.7,-1.1,1.2,-0.9,0.4,0.6,-1.0,1.1,-0.5,0.8,-1.2,
0.6,0.2,-0.8,1.0,-0.4,0.6,-1.3,0.9,-0.3,0.7,-1.0,0.4,-0.6,
0.9,-0.6,0.7,-1.0,0.4,0.8,-1.2,-0.5,-1.4,-0.6,0.8,1.8,0.9,
-0.7,0.5,0.9,-0.7,0.3,0.6,-0.5,0.5,-0.3,0.7,-0.4,0.3,-0.6,
0.7,-0.4,0.5,-0.9,0.4,-1.4,1.0,0.8,-0.5,0.6,-0.3,0.5,-0.8,
0.3,0.6,-1.0,0.4,-0.2,0.6,-0.4,0.3,0.5,-0.6,0.3,-0.2,0.4,
-0.4,0.6,-0.3,0.5,-0.8,0.5,-0.7,0.3,0.7,-0.3,0.4,-0.5,0.7,
-0.2,0.3,-0.6,0.4,0.3,-0.4,0.5,-0.3,0.2,-0.5,0.4,-0.2,0.3];

// orange series: weekly readings from 2 Jan 2019 (one line = one quarter)
const varMIB = [
-6,-5,-4,-4,-3.5,-4,-3,-3,-2.5,-3,-2.5,-2,-2,
-1.5,-2,-1.5,-2,-3.5,-4,-3.5,-3,-2.5,-2.5,-3,-2,-2,
-2,-2,-2.5,-2,-3,-5,-7,-8,-7,-6,-5,-4.5,-4,
-4,-5.5,-5,-4,-3,-2.5,-3,-2.5,-2.5,-3,-2.5,-3,-2.5,
-2.5,-2.5,-3,-4,-3.5,-2.5,-2,-2,-7,-10,-35,-22,-18,
-15,-13,-13,-12,-11,-11,-10.5,-10,-10,-9.5,-9,-9.5,-9,
-9,-8.5,-8.5,-8,-8,-7.5,-7,-7,-6.5,-6.5,-6,-6,-6,
-5.5,-5,-5.5,-6,-6,-9,-12,-9,-7.5,-6.5,-6,-6,-5.5,
-5,-4.5,-5,-6,-5,-4.5,-4,-4,-4,-4,-3.5,-4,-3.5,
-3,-3.5,-3,-3,-4,-4.5,-4,-3.5,-3,-2.5,-2.5,-2,-3];
const varIBOV = [
-3,-2.5,-4,-3,-3,-5,-3.5,-3,-4,-8,-4,-3.5,-5,
-3.5,-3,-4,-5,-7,-4,-3.5,-3,-3,-5,-3,-3,-2.5,
-3,-2.5,-3.5,-3,-2.5,-6,-4,-5,-3.5,-3,-3,-4,-3,
-3,-6,-3.5,-3,-3,-4,-3,-2.5,-4.5,-3,-3,-2.5,-3,
-3,-2.5,-4,-3,-3.5,-3,-3,-4,-6,-12,-26,-31,-20,
-17,-12,-15,-11,-10,-13,-9,-8,-9,-7,-8,-6,-7,
-5,-6,-5,-4.5,-6,-5,-4.5,-5,-7,-5,-4.5,-6,-5,
-5,-4.5,-6,-5,-8,-5,-4,-4.5,-4,-4.5,-3.5,-4,-3.5,
-4,-3.5,-5,-6,-4.5,-4,-5,-9,-6,-10,-5,-6,-4.5,
-4,-5,-3.5,-4,-6,-3.5,-3,-3.5,-4,-3,-3.5,-3,-3];
const varBFX = [
-2.5,-1.5,-1,-1.5,-2,-2,-2.5,-2,-2.5,-2,-2.5,-3,-2.5,
-3,-3.5,-4,-4,-4.5,-3.5,-3,-3,-2.5,-2,-2.5,-2,-2,
-2,-2.5,-2,-3,-5,-5,-4.5,-4,-4,-3.5,-3.5,-3,-3,
-3,-4,-3.5,-3,-2.5,-2.5,-2,-2.5,-2,-2,-2,-2.5,-2,
-2,-2,-2.5,-3,-3,-2.5,-2,-2,-4,-7,-11,-16,-17,
-15,-13,-10,-8,-7,-6,-6,-5.5,-6,-7,-8,-7,-6,
-5.5,-5,-4.5,-4.5,-4,-4.5,-4,-4,-4.5,-4,-4.5,-4,-4,
-4,-4,-4.5,-5,-5,-6.5,-8.5,-6,-4.5,-4,-3.5,-3,-3,
-3,-2.5,-3.5,-4,-3.5,-3,-3.5,-5,-4,-3.5,-3,-3,-3,
-3,-2.5,-3,-3,-3.5,-3,-2.5,-3,-2.5,-2.5,-2.5,-2,-2.5];
const varIBEX = [
-4.5,-4,-3.5,-3,-3,-3.5,-3,-2.5,-3,-3,-2.5,-3,-2.5,
-2.5,-2,-2.5,-3.5,-4,-3.5,-3,-2.5,-2.5,-2,-2,-2.5,-2,
-2,-2.5,-3,-4,-4.5,-4,-3.5,-3.5,-3,-3,-3.5,-3,-3,
-3,-4.5,-4,-3.5,-3,-3,-2.5,-3,-2.5,-3,-2.5,-2.5,-2.5,
-2.5,-2,-2.5,-3,-3,-2.5,-2,-2,-4,-8,-15,-20,-15,
-12,-10,-8.5,-8,-7.5,-7,-6.5,-7,-7.5,-6.5,-7,-6,-6.5,
-6,-6,-5.5,-6,-6.5,-5.5,-5,-5,-5.5,-5,-5.5,-5,-5.5,
-5.5,-6,-6.5,-7,-7,-8,-9,-7,-5.5,-5,-4.5,-4,-4,
-4,-3.5,-4,-4.5,-4,-3.5,-3.5,-3,-3,-3.5,-3,-3,-3,
-3,-2.5,-3,-3,-3.5,-4,-3,-2.5,-2.5,-2.5,-2,-2,-2];
const varOMXSPI = [
-3,-2.5,-2.5,-2,-2,-1.5,-1.5,-1,-1,-1.5,-1.5,-1.5,-2,
-2,-2.5,-3,-3.5,-3,-2.5,-2,-1.5,-1.5,-1.5,-1,-1.5,-1,
-1,-1.5,-2,-2.5,-3,-3,-2.5,-2.5,-3,-3,-3.5,-4,-4.5,
-4.5,-4,-3.5,-3,-2.5,-2.5,-2,-1.5,-1.5,-1.5,-1,-1,-1.5,
-1.5,-1.5,-2,-2.5,-2.5,-2,-2.5,-3,-6,-9,-10.5,-11,-12.5,
-13,-11,-10,-8.5,-8,-7.5,-7,-6.5,-6,-5.5,-5.5,-5,-5.5,
-5,-5,-4.5,-4.5,-4,-4,-3.5,-3.5,-3,-3.5,-3.5,-3,-3.5,
-3.5,-3,-3.5,-4,-4,-4.5,-5,-4,-3.5,-3,-2.5,-2,-2,
-2,-1.5,-2,-2,-1.5,-1.5,-1.5,-2,-2,-2.5,-2,-2,-2.5,
-2.5,-3,-2.5,-3,-3,-3,-3.5,-3,-2.5,-2,-1.5,-1.5,-1.5];
const varOSEAX = [
-2.5,-2.5,-3,-3.5,-3.5,-4,-3,-2.5,-2.5,-2.5,-2,-2.5,-2,
-1.5,-2,-1.5,-2,-3,-3,-2.5,-2.5,-3,-2.5,-3,-3,-2.5,
-3,-2.5,-3,-3.5,-3.5,-4,-3.5,-3,-3.5,-4,-3.5,-4,-4.5,
-5,-4,-3.5,-3,-3,-2.5,-3,-2.5,-2,-2,-2,-2.5,-2,
-2,-2,-2.5,-3,-2.5,-2,-2.5,-3,-4,-7,-10,-12.5,-11,
-9,-8,-6,-5.5,-5,-4.5,-5,-4,-5,-6,-4.5,-4,-4.5,
-4,-3.5,-4,-3.5,-3,-3,-2.5,-3,-2.5,-3,-3.5,-3,-3.5,
-3,-3,-3.5,-4,-4,-4.5,-5,-3.5,-3,-2.5,-3,-2.5,-2.5,
-2.5,-3,-2.5,-3.5,-3,-2.5,-2.5,-2,-2.5,-3,-2.5,-3,-2.5,
-3.5,-4,-3.5,-3,-2.5,-2,-2.5,-2,-2.5,-3,-2.5,-2,-3];
const varSSMI = [
-3,-2.5,-2,-2,-1.5,-2,-1.5,-1.5,-1.5,-2,-1.5,-1.5,-1.5,
-1.5,-1.5,-2,-2.5,-3.5,-3,-2.5,-2,-2,-1.5,-1.5,-1.5,-1,
-1,-1.5,-1.5,-2,-3,-3.5,-3,-2.5,-2.5,-2.5,-2,-2.5,-2.5,
-3,-3,-2.5,-2,-2,-1.5,-1.5,-2,-1.5,-1.5,-1,-1,-1,
-1,-1,-1.5,-2,-1.5,-1,-1,-1,-3,-7,-12,-14,-16,
-15,-12,-10,-8,-6.5,-6,-5.5,-5,-5,-4.5,-5,-4.5,-4.5,
-4.5,-4,-4,-3.5,-3.5,-3.5,-3,-3,-3,-3,-3,-3.5,-3,
-3,-3,-3.5,-4,-4.5,-5,-6,-4.5,-3.5,-3,-2.5,-3,-2.5,
-2.5,-2,-2.5,-3.5,-4,-3,-2.5,-2.5,-2,-2,-2.5,-2,-2,
-2,-2.5,-2.5,-3,-3.5,-3,-2.5,-2,-2,-1.5,-1.5,-1.5,-1.5];
const varAEX = [
-4.5,-4,-3.5,-3,-3,-3,-2.5,-3,-2.5,-3,-3,-3,-2.5,
-2.5,-2,-2,-2,-2.5,-3,-3,-2.5,-2,-2,-2,-2.5,-2,
-2,-2,-2,-3,-5,-5,-4.5,-4,-4,-4,-3.5,-3.5,-4,
-4,-5,-4,-3.5,-3,-3,-2.5,-3,-2.5,-2.5,-2.5,-2,-2,
-2,-2,-2.5,-3,-3,-2.5,-2,-2,-4,-7,-13,-15.5,-14,
-15,-12,-10,-9,-8,-7,-7,-6.5,-6,-6.5,-6,-5.5,-5.5,
-6,-5.5,-5,-5,-4.5,-4.5,-4,-4,-3.5,-3.5,-4,-3.5,-3.5,
-3.5,-3.5,-4,-4.5,-5,-5.5,-6.5,-5,-4,-3.5,-3,-3,-3,
-2.5,-2.5,-3,-3.5,-3,-2.5,-2.5,-3,-2.5,-2.5,-2.5,-2,-2.5,
-2.5,-3,-2.5,-2.5,-3,-4.5,-3.5,-3,-2.5,-2.5,-2,-2,-3];
const varFCHI = [
-5,-4.5,-4.5,-4,-3.5,-4,-3,-3,-2.5,-3,-3,-3,-2.5,
-2,-2,-2.5,-3,-4.5,-4,-4,-3.5,-3,-3,-2.5,-2.5,-2,
-2,-2,-2.5,-3,-6,-5.5,-5,-4.5,-4,-4,-4,-4.5,-4.5,
-5,-4.5,-4,-3.5,-3.5,-3,-3,-3,-3.5,-3,-2.5,-2.5,-2,
-2,-2,-2.5,-4,-3.5,-3,-2.5,-2.5,-5,-8,-13,-19,-15.5,
-16,-14,-12,-10,-9,-8,-8,-7.5,-8,-8.5,-7,-6.5,-6.5,
-6,-6,-5.5,-5.5,-5,-5,-4.5,-5,-4.5,-4.5,-5,-4.5,-4.5,
-4,-4,-4.5,-5,-5.5,-8,-10.5,-7,-5,-4,-3.5,-3,-3,
-2.5,-2.5,-3,-4.5,-3.5,-3,-3,-3.5,-3,-3,-2.5,-2.5,-2.5,
-2,-2.5,-2.5,-3,-3,-3,-2.5,-2.5,-2,-2,-2,-2,-3];
const varFTSE = [
-3.5,-3.5,-3,-3.5,-3,-3.5,-3,-3,-3,-2.5,-2.5,-3,-2.5,
-2.5,-2.5,-3,-3.5,-4,-3,-2.5,-2,-1.5,-1.5,-1.5,-2,-2,
-2,-2,-1.5,-2,-4,-5,-4,-3.5,-3,-3,-2.5,-3,-3.5,
-4,-5.5,-4.5,-3.5,-3,-3,-2.5,-2.5,-2,-2,-2,-2,-1.5,
-1.5,-1.5,-2,-3,-2.5,-2,-2,-2,-4,-7,-12,-16.5,-14,
-16,-13,-11,-9,-8,-7.5,-7,-6.5,-6,-6.5,-6.5,-6,-6,
-6,-6,-5.5,-5.5,-5,-5,-4.5,-5,-4.5,-4.5,-4.5,-4.5,-4.5,
-4.5,-4.5,-5,-5,-5.5,-6,-6.5,-5.5,-5,-4.5,-4.5,-5,-4.5,
-5,-5.5,-6,-4.5,-4,-3.5,-3.5,-3,-3,-3,-3,-2.5,-3,
-2.5,-2.5,-2.5,-3,-2.5,-2.5,-3,-2.5,-2,-1.5,-1.5,-1.5,-3];
const varGDAXI = [
-5,-4.5,-4,-3.5,-3.5,-3,-3.5,-3,-2.5,-2,-3,-3.5,-3,
-3.5,-3,-3.5,-3,-3,-2.5,-2,-1.5,-1,-1.5,-2,-2,-2.5,
-2.5,-2.5,-2,-2.5,-3,-6,-5.5,-5,-5,-4.5,-4,-4.5,-4.5,
-5,-4.5,-4,-3.5,-3,-3,-3,-3.5,-3,-3,-2.5,-2.5,-2,
-2,-2,-2.5,-3,-3,-2.5,-2,-2,-5,-10,-16,-19.5,-18,
-15,-12,-10,-9.5,-9,-9,-8.5,-8,-8.5,-9,-8,-7.5,-7,
-7,-6.5,-6,-6,-5.5,-5.5,-5,-5,-4.5,-4.5,-5,-4.5,-5,
-5,-5,-5.5,-6,-6.5,-8,-9.5,-7,-5.5,-4.5,-4,-3.5,-3,
-3,-2.5,-3,-3.5,-3,-3,-3,-3.5,-3,-2.5,-2.5,-2.5,-2.5,
-2.5,-3,-2.5,-3,-3.5,-4,-3.5,-3,-2.5,-2,-2,-2,-3];
const varRTS = [
-5.5,-6,-5,-4.5,-3.5,-3,-2.5,-2,-3,-3.5,-3,-2.5,-2,
-1.5,-2,-3,-4,-3.5,-4,-4.5,-4,-3.5,-3,-3,-3,-2.5,
-2,-1.5,-2,-2.5,-4,-4,-3.5,-4,-4.5,-5,-4,-3,-2.5,
-2,-2.5,-3,-3.5,-3.5,-4,-5,-4.5,-3.5,-3,-2.5,-2,-1.5,
-1.5,-2,-2.5,-3,-3,-2.5,-3,-3.5,-5,-8,-13,-17,-20.5,
-16,-12,-9,-6,-5.5,-5,-5,-5,-5.5,-6.5,-8.5,-6,-5.5,
-5,-5,-4.5,-4.5,-4.5,-4,-4,-4,-4.5,-4,-4.5,-5,-5,
-5,-4.5,-5,-5.5,-6,-6.5,-7.5,-6,-5,-4.5,-5,-4.5,-4,
-4,-4.5,-5,-4.5,-4,-3.5,-4,-3.5,-3,-3.5,-3,-3,-3.5,
-4,-4.5,-5,-6,-4.5,-4,-3.5,-3,-3,-3,-2.5,-2.5,-3];
const varGSPTSE = [
-3,-2.5,-2.5,-2,-2,-2,-2,-2.5,-2,-2,-2,-2.5,-2,
-2,-2,-2,-2.5,-2.5,-3,-2.5,-2,-2,-2,-2,-2,-2,
-2,-2,-2,-2,-3,-3.5,-3,-2.5,-2.5,-2,-2,-2.5,-2.5,
-2.5,-3,-2.5,-2.5,-2,-2,-2,-2,-2,-2,-2,-1.5,-1.5,
-1.5,-1.5,-2,-2,-2,-1.5,-1.5,-1.5,-4,-9,-20,-28,-24,
-14,-11,-9,-8,-7.5,-6.5,-6,-5.5,-5.5,-6,-7.5,-5.5,-5,
-4.5,-4,-4,-3.5,-3.5,-3,-3,-3.5,-4,-3.5,-3.5,-3,-3.5,
-3.5,-3,-3,-3.5,-3.5,-3,-2.5,-2.5,-2.5,-2.5,-2,-2.5,-2.5,
-2.5,-2.5,-3,-3.5,-3,-2.5,-4,-5,-3.5,-3,-2.5,-2.5,-2.5,
-2.5,-2.5,-2,-2.5,-2.5,-2.5,-2,-2,-2,-2,-2,-2,-2];
const varATX = [
-1.5,-4,-4,-3.5,-3.5,-4,-3.5,-3,-3,-3,-3.5,-3,-3,
-3,-2.5,-3,-3.5,-4,-3.5,-3,-2.5,-2,-1.5,-2,-2,-2,
-2,-2.5,-2.5,-3,-3.5,-3.5,-3,-3,-2.5,-3,-3,-3.5,-3,
-3,-3.5,-3,-2.5,-2.5,-2,-2,-2,-2,-1.5,-1.5,-1.5,-1,
-1,-1,-1.5,-2,-2,-1.5,-1.5,-2,-4,-8,-17,-27,-29,
-20,-14,-12,-12,-11,-10.5,-10,-10,-9.5,-10,-12,-9,-8.5,
-8,-7.5,-7,-7,-6.5,-6,-5.5,-5.5,-5,-5,-5,-4.5,-5,
-5,-4.5,-5,-5.5,-6,-6.5,-12.5,-8,-6,-5,-4.5,-4,-4,
-4,-3.5,-4,-4,-3.5,-3,-3,-3,-3,-2.5,-2.5,-3,-2.5,
-2.5,-2.5,-2,-2.5,-2.5,-2,-2,-2.5,-2.5,-2.5,-2,-2.5,-3];
const varDJI = [
-5.5,-4,-3.5,-3,-3,-3,-2.5,-2.5,-2.5,-2.5,-3,-2.5,-2.5,
-2,-2,-2,-2.5,-3.5,-3,-3,-2.5,-2.5,-2,-2,-2,-2,
-2,-2,-2,-2.5,-4.5,-5,-4,-3.5,-3.5,-3,-3,-3,-3,
-3,-3,-2.5,-2.5,-2,-2,-2,-2,-2,-2,-2,-2,-2,
-2,-2,-2,-3,-3,-2.5,-2.5,-2.5,-5,-8,-14,-23,-18,
-12,-10,-8,-6.5,-6,-5.5,-5,-4.5,-4.5,-4.5,-8,-5.5,-5,
-4.5,-4,-4,-3.5,-3.5,-3,-3,-3,-4,-4,-3.5,-3.5,-4,
-4,-4,-3.5,-4,-4.5,-4,-3.5,-3,-3,-2.5,-2.5,-2.5,-2.5,
-2.5,-3,-3.5,-3,-2.5,-2.5,-3,-4,-3,-3,-2.5,-2.5,-2.5,
-2.5,-2,-2,-2,-2.5,-2.5,-2.5,-2,-2,-2,-2,-2,-3.5];
const varAORD = [
-2.5,-2.5,-2,-2,-2,-2,-2,-1.5,-1.5,-2,-2,-1.5,-1.5,
-1.5,-1.5,-1.5,-2,-2,-2,-2,-1.5,-1.5,-2,-2,-2,-2,
-2,-2,-2,-2,-3.5,-3.5,-3,-2.5,-2.5,-2.5,-2.5,-2.5,-3,
-3.5,-3,-3,-2.5,-2.5,-2.5,-2.5,-2.5,-2,-2,-2,-2,-2,
-2,-2,-2,-2,-2,-2,-2,-2.5,-3,-4.5,-8,-12,-13.5,
-11,-12,-9,-7,-5.5,-5,-4.5,-4,-4,-4,-4,-3.5,-4,
-5.5,-4,-3.5,-3.5,-3,-3,-3,-3,-3,-2.5,-2.5,-3,-3,
-3.5,-4,-3,-3,-2.5,-2.5,-2.5,-2.5,-2,-2,-2,-2,-2,
-2,-2,-2,-2.5,-2,-2.5,-2.5,-2.5,-2,-2,-2,-2.5,-2,
-2,-2,-2,-2,-2,-2.5,-2,-2,-3,-2.5,-2,-2,-3];

// ---------------- layout (drawn in the units of the reference as shown: 1568 x 1280)
const W = 1653, H = 1349, VW = 1568, VH = 1280;
const BLUE = "#0563b5", ORANGE = "#d2541c", INK = "#262626";

// four blocks of panels: frame x-extent and where the 01/19 and 07/21 ticks sit
const columns = {
  LA: {x0: 62,  x1: 755,  t0: 80,  t1: 712},
  RA: {x0: 860, x1: 1565, t0: 867, t1: 1523},
  LB: {x0: 40,  x1: 775,  t0: 57,  t1: 728},
  RB: {x0: 845, x1: 1566, t0: 862, t1: 1533}
};

const panels = [
  {col: "LA", y0: 36,   y1: 128,  dom: [-36, 8],      ticks: [-30, -20, -10, 0],     ret: retMIB,    vr: varMIB},
  {col: "LA", y0: 187,  y1: 280,  dom: [-32.4, 13],   ticks: [-30, -20, -10, 0, 10], ret: retIBOV,   vr: varIBOV},
  {col: "LA", y0: 336,  y1: 431,  dom: [-20, 7.7],    ticks: [-20, -10, 0],          ret: retBFX,    vr: varBFX},
  {col: "LA", y0: 487,  y1: 582,  dom: [-20, 8.3],    ticks: [-20, -10, 0],          ret: retIBEX,   vr: varIBEX},
  {col: "RA", y0: 36,   y1: 128,  dom: [-13.3, 6.5],  ticks: [-10, -5, 0, 5],        ret: retOMXSPI, vr: varOMXSPI},
  {col: "RA", y0: 185,  y1: 278,  dom: [-12.8, 5.8],  ticks: [-10, -5, 0, 5],        ret: retOSEAX,  vr: varOSEAX},
  {col: "RA", y0: 334,  y1: 428,  dom: [-20, 7.1],    ticks: [-20, -10, 0],          ret: retSSMI,   vr: varSSMI},
  {col: "RA", y0: 484,  y1: 578,  dom: [-20, 8.8],    ticks: [-20, -10, 0],          ret: retAEX,    vr: varAEX},
  {col: "LB", y0: 686,  y1: 783,  dom: [-20, 8.3],    ticks: [-20, -10, 0],          ret: retFCHI,   vr: varFCHI},
  {col: "LB", y0: 842,  y1: 940,  dom: [-20, 9],      ticks: [-20, -10, 0],          ret: retFTSE,   vr: varFTSE},
  {col: "LB", y0: 998,  y1: 1095, dom: [-20, 10.2],   ticks: [-20, -10, 0, 10],      ret: retGDAXI,  vr: varGDAXI},
  {col: "LB", y0: 1153, y1: 1251, dom: [-20.5, 8.6],  ticks: [-20, -10, 0],          ret: retRTS,    vr: varRTS},
  {col: "RB", y0: 689,  y1: 787,  dom: [-29, 11.3],   ticks: [-20, -10, 0, 10],      ret: retGSPTSE, vr: varGSPTSE},
  {col: "RB", y0: 846,  y1: 944,  dom: [-29.8, 10.9], ticks: [-20, -10, 0, 10],      ret: retATX,    vr: varATX},
  {col: "RB", y0: 1002, y1: 1098, dom: [-23.3, 10.6], ticks: [-20, -10, 0, 10],      ret: retDJI,    vr: varDJI},
  {col: "RB", y0: 1157, y1: 1254, dom: [-13.5, 6.6],  ticks: [-10, -5, 0, 5],        ret: retAORD,   vr: varAORD}
];

// time index of the two series
const parseTick = d3.timeParse("%m/%y");
const tickDates = tickLabels.map(parseTick);
const start = new Date(2019, 0, 2).getTime();
const DAY = 864e5;
const retDate = j => new Date(start + j * 3.5 * DAY);
const varDate = i => new Date(start + i * 7 * DAY);

const svg = d3.select("#chart").append("svg")
  .attr("width", W).attr("height", H)
  .attr("viewBox", `0 0 ${VW} ${VH}`)
  .style("font-family", "'Liberation Sans', Arial, Helvetica, sans-serif");

svg.append("rect").attr("width", VW).attr("height", VH).attr("fill", "#fff");

// red frame round the first two panels
svg.append("rect")
  .attr("x", 12).attr("y", 10).attr("width", 773).attr("height", 302)
  .attr("fill", "none").attr("stroke", "#b3312c").attr("stroke-width", 2);

const defs = svg.append("defs");

panels.forEach((p, k) => {
  const c = columns[p.col];
  const x = d3.scaleTime()
    .domain([tickDates[0], tickDates[tickDates.length - 1]])
    .range([c.t0, c.t1]);
  const y = d3.scaleLinear().domain(p.dom).range([p.y1, p.y0]);

  defs.append("clipPath").attr("id", "clip" + k)
    .append("rect")
    .attr("x", c.x0).attr("y", p.y0)
    .attr("width", c.x1 - c.x0).attr("height", p.y1 - p.y0);

  const g = svg.append("g").attr("class", "panel");
  const plot = g.append("g").attr("clip-path", `url(#clip${k})`);

  plot.append("path")
    .datum(p.vr)
    .attr("fill", "none")
    .attr("stroke", ORANGE)
    .attr("stroke-width", 1.6)
    .attr("stroke-linejoin", "round")
    .attr("d", d3.line().x((d, i) => x(varDate(i))).y(d => y(d)));

  plot.append("path")
    .datum(p.ret)
    .attr("fill", "none")
    .attr("stroke", BLUE)
    .attr("stroke-width", 1.9)
    .attr("stroke-linejoin", "round")
    .attr("d", d3.line().x((d, j) => x(retDate(j))).y(d => y(d)));

  // axes, MATLAB style: ticks inside on all four sides
  const axisStyle = sel => {
    sel.attr("font-size", 16).attr("font-family", null).attr("color", INK);
    sel.select(".domain").remove();
    sel.selectAll("line").attr("stroke-width", 1);
  };

  g.append("g").attr("transform", `translate(0,${p.y1})`)
    .call(d3.axisBottom(x).tickValues(tickDates)
      .tickFormat((d, i) => tickLabels[i]).tickSize(-5).tickPadding(9))
    .call(axisStyle);
  g.append("g").attr("transform", `translate(0,${p.y0})`)
    .call(d3.axisTop(x).tickValues(tickDates).tickFormat("").tickSize(-5))
    .call(axisStyle);
  g.append("g").attr("transform", `translate(${c.x0},0)`)
    .call(d3.axisLeft(y).tickValues(p.ticks).tickSize(-5).tickPadding(5))
    .call(axisStyle);
  g.append("g").attr("transform", `translate(${c.x1},0)`)
    .call(d3.axisRight(y).tickValues(p.ticks).tickFormat("").tickSize(-5))
    .call(axisStyle);

  g.append("rect")
    .attr("x", c.x0).attr("y", p.y0)
    .attr("width", c.x1 - c.x0).attr("height", p.y1 - p.y0)
    .attr("fill", "none").attr("stroke", INK).attr("stroke-width", 1.1);

  g.append("text")
    .attr("x", (c.x0 + c.x1) / 2).attr("y", p.y0 - 5)
    .attr("text-anchor", "middle")
    .attr("font-size", 18)
    .attr("fill", INK)
    .text(indexNames[k]);
});
</script>
</body>
</html>
